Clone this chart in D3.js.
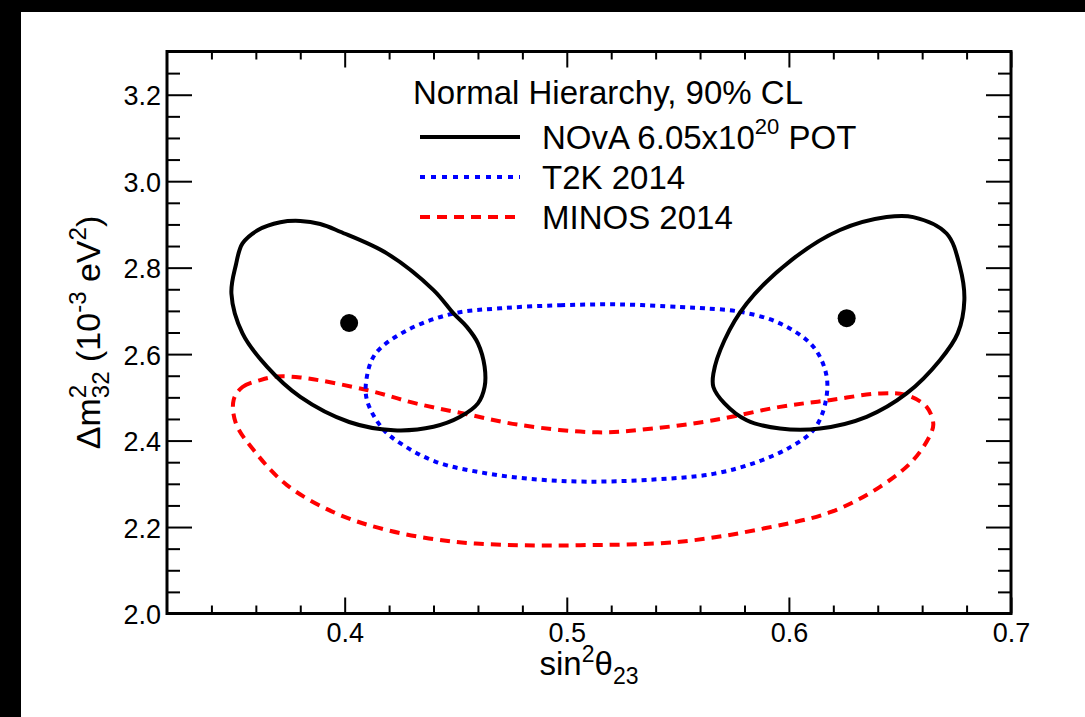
<!DOCTYPE html>
<html>
<head>
<meta charset="utf-8">
<script src="https://cdn.jsdelivr.net/npm/d3@7"></script>
<style>
  html, body { margin: 0; padding: 0; background: #fff; }
  svg { display: block; font-family: "Liberation Sans", Arial, Helvetica, sans-serif; }
</style>
</head>
<body>
<div class="chart"></div>
<script>
// contour points (sin^2 theta23, dm^2_32 in 1e-3 eV^2)
const novaLeftX = [0.349, 0.351, 0.354, 0.361, 0.371, 0.380, 0.389, 0.398, 0.419, 0.440, 0.449, 0.455, 0.460, 0.463, 0.463, 0.460, 0.452, 0.440, 0.422, 0.402, 0.380, 0.365, 0.354];
const novaLeftY = [2.740, 2.806, 2.856, 2.887, 2.905, 2.908, 2.901, 2.883, 2.833, 2.748, 2.694, 2.663, 2.625, 2.571, 2.524, 2.486, 2.455, 2.432, 2.424, 2.443, 2.501, 2.571, 2.648];

const novaRightX = [0.566, 0.571, 0.581, 0.601, 0.623, 0.644, 0.656, 0.671, 0.677, 0.679, 0.676, 0.668, 0.653, 0.635, 0.614, 0.596, 0.581, 0.571, 0.566];
const novaRightY = [2.555, 2.632, 2.717, 2.817, 2.887, 2.917, 2.917, 2.879, 2.802, 2.725, 2.648, 2.586, 2.509, 2.455, 2.428, 2.428, 2.447, 2.486, 2.524];

const t2kX = [0.470, 0.497, 0.524, 0.551, 0.562, 0.578, 0.596, 0.611, 0.617, 0.616, 0.611, 0.601, 0.586, 0.566, 0.536, 0.509, 0.487, 0.464, 0.441, 0.425, 0.417, 0.410, 0.410, 0.414, 0.428, 0.449];
const t2kY = [2.706, 2.713, 2.715, 2.709, 2.706, 2.698, 2.671, 2.617, 2.548, 2.478, 2.424, 2.386, 2.351, 2.323, 2.309, 2.305, 2.310, 2.324, 2.351, 2.394, 2.428, 2.494, 2.548, 2.602, 2.655, 2.694];

const minosX = [0.350, 0.354, 0.362, 0.369, 0.380, 0.410, 0.432, 0.455, 0.479, 0.514, 0.539, 0.566, 0.596, 0.619, 0.641, 0.653, 0.662, 0.665, 0.664, 0.656, 0.641, 0.619, 0.589, 0.551, 0.506, 0.479, 0.449, 0.419, 0.396, 0.374, 0.359, 0.351];
const minosY = [2.494, 2.524, 2.540, 2.548, 2.546, 2.517, 2.486, 2.461, 2.436, 2.419, 2.428, 2.447, 2.478, 2.494, 2.509, 2.505, 2.478, 2.440, 2.417, 2.355, 2.293, 2.235, 2.197, 2.166, 2.158, 2.158, 2.166, 2.193, 2.232, 2.297, 2.378, 2.440];

const bestFitX = [0.402, 0.626];
const bestFitY = [2.672, 2.683];

const xMajor = [0.4, 0.5, 0.6, 0.7];
const xMinor = [0.34, 0.36, 0.38, 0.42, 0.44, 0.46, 0.48, 0.52, 0.54, 0.56, 0.58, 0.62, 0.64, 0.66, 0.68];
const yMajor = [2.0, 2.2, 2.4, 2.6, 2.8, 3.0, 3.2];
const yMinor = [2.05, 2.1, 2.15, 2.25, 2.3, 2.35, 2.45, 2.5, 2.55, 2.65, 2.7, 2.75, 2.85, 2.9, 2.95, 3.05, 3.1, 3.15, 3.25];

const width = 1085, height = 717;
const margin = {left: 167, right: 1011, top: 51.5, bottom: 613.5};

const svg = d3.select(".chart").append("svg")
    .attr("width", width)
    .attr("height", height);

// black border of the screenshot
svg.append("rect").attr("x", 0).attr("y", 0).attr("width", width).attr("height", 12).attr("fill", "#000");
svg.append("rect").attr("x", 0).attr("y", 0).attr("width", 21).attr("height", height).attr("fill", "#000");

const x = d3.scaleLinear().domain([0.32, 0.7]).range([margin.left, margin.right]);
const y = d3.scaleLinear().domain([2.0, 3.3]).range([margin.bottom, margin.top]);

const zip = (xs, ys) => xs.map((v, i) => [v, ys[i]]);
const line = d3.line()
    .x(d => x(d[0]))
    .y(d => y(d[1]))
    .curve(d3.curveCatmullRomClosed.alpha(0.5));

const plot = svg.append("g");

plot.append("path")
    .attr("d", line(zip(minosX, minosY)))
    .attr("fill", "none").attr("stroke", "#ff0000").attr("stroke-width", 4)
    .attr("stroke-dasharray", "10,7");

plot.append("path")
    .attr("d", line(zip(t2kX, t2kY)))
    .attr("fill", "none").attr("stroke", "#0000ff").attr("stroke-width", 4)
    .attr("stroke-dasharray", "5,5");

[zip(novaLeftX, novaLeftY), zip(novaRightX, novaRightY)].forEach(pts => {
    plot.append("path")
        .attr("d", line(pts))
        .attr("fill", "none").attr("stroke", "#000").attr("stroke-width", 4);
});

plot.selectAll("circle.bf")
    .data(zip(bestFitX, bestFitY))
    .enter().append("circle")
    .attr("class", "bf")
    .attr("cx", d => x(d[0]))
    .attr("cy", d => y(d[1]))
    .attr("r", 9)
    .attr("fill", "#000");

// axes, ticks pointing inwards on all four sides
function addAxis(axis, transform, size, vals, fmt) {
    const g = svg.append("g")
        .attr("transform", transform)
        .call(axis.tickValues(vals).tickSize(size).tickPadding(0).tickFormat(fmt));
    g.select(".domain").remove();
    g.selectAll(".tick line").attr("stroke", "#000").attr("stroke-width", 2);
    return g;
}
const none = () => "";

const xb = addAxis(d3.axisBottom(x), `translate(0,${margin.bottom})`, -16, xMajor, d3.format(".1f"));
xb.selectAll("text").attr("font-size", 27).attr("fill", "#000").attr("y", 28).attr("dy", 0);
addAxis(d3.axisBottom(x), `translate(0,${margin.bottom})`, -8, xMinor, none);
addAxis(d3.axisTop(x), `translate(0,${margin.top})`, -16, xMajor, none);
addAxis(d3.axisTop(x), `translate(0,${margin.top})`, -8, xMinor, none);

const yl = addAxis(d3.axisLeft(y), `translate(${margin.left},0)`, -25, yMajor, d3.format(".1f"));
yl.selectAll("text").attr("font-size", 27).attr("fill", "#000").attr("x", -6).attr("dy", "0.38em");
addAxis(d3.axisLeft(y), `translate(${margin.left},0)`, -13, yMinor, none);
addAxis(d3.axisRight(y), `translate(${margin.right},0)`, -25, yMajor, none);
addAxis(d3.axisRight(y), `translate(${margin.right},0)`, -13, yMinor, none);

// frame
svg.append("rect")
    .attr("x", margin.left).attr("y", margin.top)
    .attr("width", margin.right - margin.left)
    .attr("height", margin.bottom - margin.top)
    .attr("fill", "none").attr("stroke", "#000").attr("stroke-width", 3);

// axis titles
const xt = svg.append("text")
    .attr("x", (margin.left + margin.right) / 2)
    .attr("y", 675)
    .attr("text-anchor", "middle")
    .attr("font-size", 33);
xt.append("tspan").text("sin");
xt.append("tspan").attr("font-size", 23).attr("dy", -13).text("2");
xt.append("tspan").attr("dy", 13).text("θ");
xt.append("tspan").attr("font-size", 23).attr("dy", 9).text("23");

const yt = svg.append("text")
    .attr("transform", `translate(100,${(margin.top + margin.bottom) / 2}) rotate(-90)`)
    .attr("text-anchor", "middle")
    .attr("font-size", 34);
yt.append("tspan").text("Δm");
yt.append("tspan").attr("font-size", 24).attr("dy", -14).text("2");
yt.append("tspan").attr("font-size", 24).attr("dx", -13.3).attr("dy", 23).text("32");
yt.append("tspan").attr("dy", -9).text(" (10");
yt.append("tspan").attr("font-size", 24).attr("dy", -14).text("-3");
yt.append("tspan").attr("dy", 14).text(" eV");
yt.append("tspan").attr("font-size", 24).attr("dy", -14).text("2");
yt.append("tspan").attr("dy", 14).text(")");

// legend
const legendNames = ["NOvA 6.05x10", "T2K 2014", "MINOS 2014"];
const legendColors = ["#000", "#0000ff", "#ff0000"];
const legendDash = [null, "5,6", "10,7"];

const legend = svg.append("g").attr("font-size", 33);
legend.append("text").attr("x", 413).attr("y", 104).text("Normal Hierarchy, 90% CL");

const rows = legend.selectAll("g.row")
    .data(legendNames)
    .enter().append("g")
    .attr("class", "row")
    .attr("transform", (d, i) => `translate(0,${137 + i * 40})`);

rows.append("line")
    .attr("x1", 420).attr("x2", 520)
    .attr("stroke", (d, i) => legendColors[i])
    .attr("stroke-width", 4)
    .attr("stroke-dasharray", (d, i) => legendDash[i]);

const lt = rows.append("text")
    .attr("x", 542)
    .attr("y", 12);
lt.append("tspan").text(d => d);
lt.filter((d, i) => i === 0).each(function () {
    const t = d3.select(this);
    t.append("tspan").attr("font-size", 22).attr("dy", -15).text("20");
    t.append("tspan").attr("dy", 15).text(" POT");
});
</script>
</body>
</html>
